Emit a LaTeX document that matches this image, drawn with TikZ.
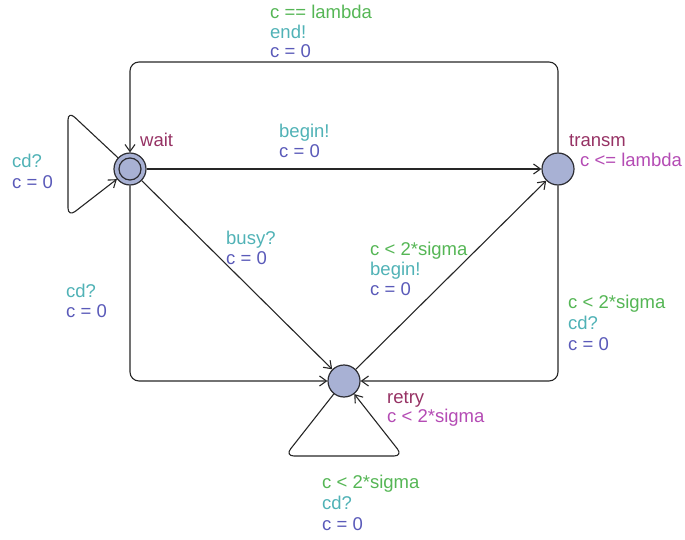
\documentclass[tikz,border=0pt]{standalone}
\usepackage{fontspec}
\setmainfont{Liberation Sans}
\usetikzlibrary{arrows.meta}
\definecolor{locfill}{RGB}{168,177,212}
\definecolor{locdraw}{RGB}{45,45,50}
\definecolor{guardc}{RGB}{85,182,85}
\definecolor{syncc}{RGB}{80,178,182}
\definecolor{assignc}{RGB}{90,90,185}
\definecolor{namec}{RGB}{150,50,100}
\definecolor{invc}{RGB}{180,75,180}
\begin{document}
\begin{tikzpicture}[x=1pt,y=-1pt,
  loc/.style={circle, draw=locdraw, fill=locfill, line width=1.2pt, minimum size=32pt, inner sep=0pt},
  locin/.style={circle, draw=locdraw, line width=1.2pt, minimum size=22pt, inner sep=0pt},
  edge/.style={draw=black!85, line width=1.1pt, rounded corners=9pt, -{Straight Barb[length=7pt,width=10pt]}},
  lbl/.style={anchor=base west, inner sep=0pt, font=\fontsize{18.5}{21}\selectfont},
  guard/.style={lbl, text=guardc},
  sync/.style={lbl, text=syncc},
  assign/.style={lbl, text=assignc},
  lname/.style={lbl, text=namec},
  inv/.style={lbl, text=invc}]
\useasboundingbox (0,0) rectangle (685,540);

% locations
\node[loc] (wait) at (130,169) {};
\node[locin] (waitin) at (130,169) {};
\node[loc] (transm) at (558,169) {};
\node[loc] (retry) at (344,381) {};

% corner coordinates
\coordinate (tc1) at (558,62);
\coordinate (tc2) at (130,62);
\coordinate (wl1) at (68,111);
\coordinate (wl2) at (68,217);
\coordinate (wb) at (130,381);
\coordinate (rb) at (558,381);
\coordinate (rl1) at (285,456);
\coordinate (rl2) at (403,456);

% edges
\draw[edge] (transm.north) -- (tc1) -- (tc2) -- (wait.north);
\draw[edge] (wait) -- (transm);
\draw[edge] (wait) -- (wl1) -- (wl2) -- (wait);
\draw[edge] (wait) -- (retry);
\draw[edge] (wait.south) -- (wb) -- (retry.west);
\draw[edge] (retry) -- (transm);
\draw[edge] (transm.south) -- (rb) -- (retry.east);
\draw[edge] (retry) -- (rl1) -- (rl2) -- (retry);

% location labels
\node[lname] (nwait) at (140,147) {wait};
\node[lname] (ntransm) at (569,147) {transm};
\node[inv] (itransm) at (580,167) {c <= lambda};
\node[lname] (nretry) at (387,403) {retry};
\node[inv] (iretry) at (387,422) {c < 2*sigma};

% top edge
\node[guard] (g1) at (270,19) {c == lambda};
\node[sync] (s1) at (270,39) {end!};
\node[assign] (a1) at (270,58) {c = 0};

% wait -> transm
\node[sync] (s2) at (279,138) {begin!};
\node[assign] (a2) at (279,158) {c = 0};

% wait loop
\node[sync] (s3) at (12,168) {cd?};
\node[assign] (a3) at (12,189) {c = 0};

% wait -> retry diagonal
\node[sync] (s4) at (226,244) {busy?};
\node[assign] (a4) at (226,264) {c = 0};

% wait -> retry left
\node[sync] (s5) at (66,297) {cd?};
\node[assign] (a5) at (66,317) {c = 0};

% retry -> transm
\node[guard] (g6) at (370,255) {c < 2*sigma};
\node[sync] (s6) at (370,275) {begin!};
\node[assign] (a6) at (370,295) {c = 0};

% transm -> retry
\node[guard] (g7) at (568,308) {c < 2*sigma};
\node[sync] (s7) at (568,329) {cd?};
\node[assign] (a7) at (568,350) {c = 0};

% retry loop
\node[guard] (g8) at (322,488) {c < 2*sigma};
\node[sync] (s8) at (322,509) {cd?};
\node[assign] (a8) at (322,530) {c = 0};
\end{tikzpicture}
\end{document}
